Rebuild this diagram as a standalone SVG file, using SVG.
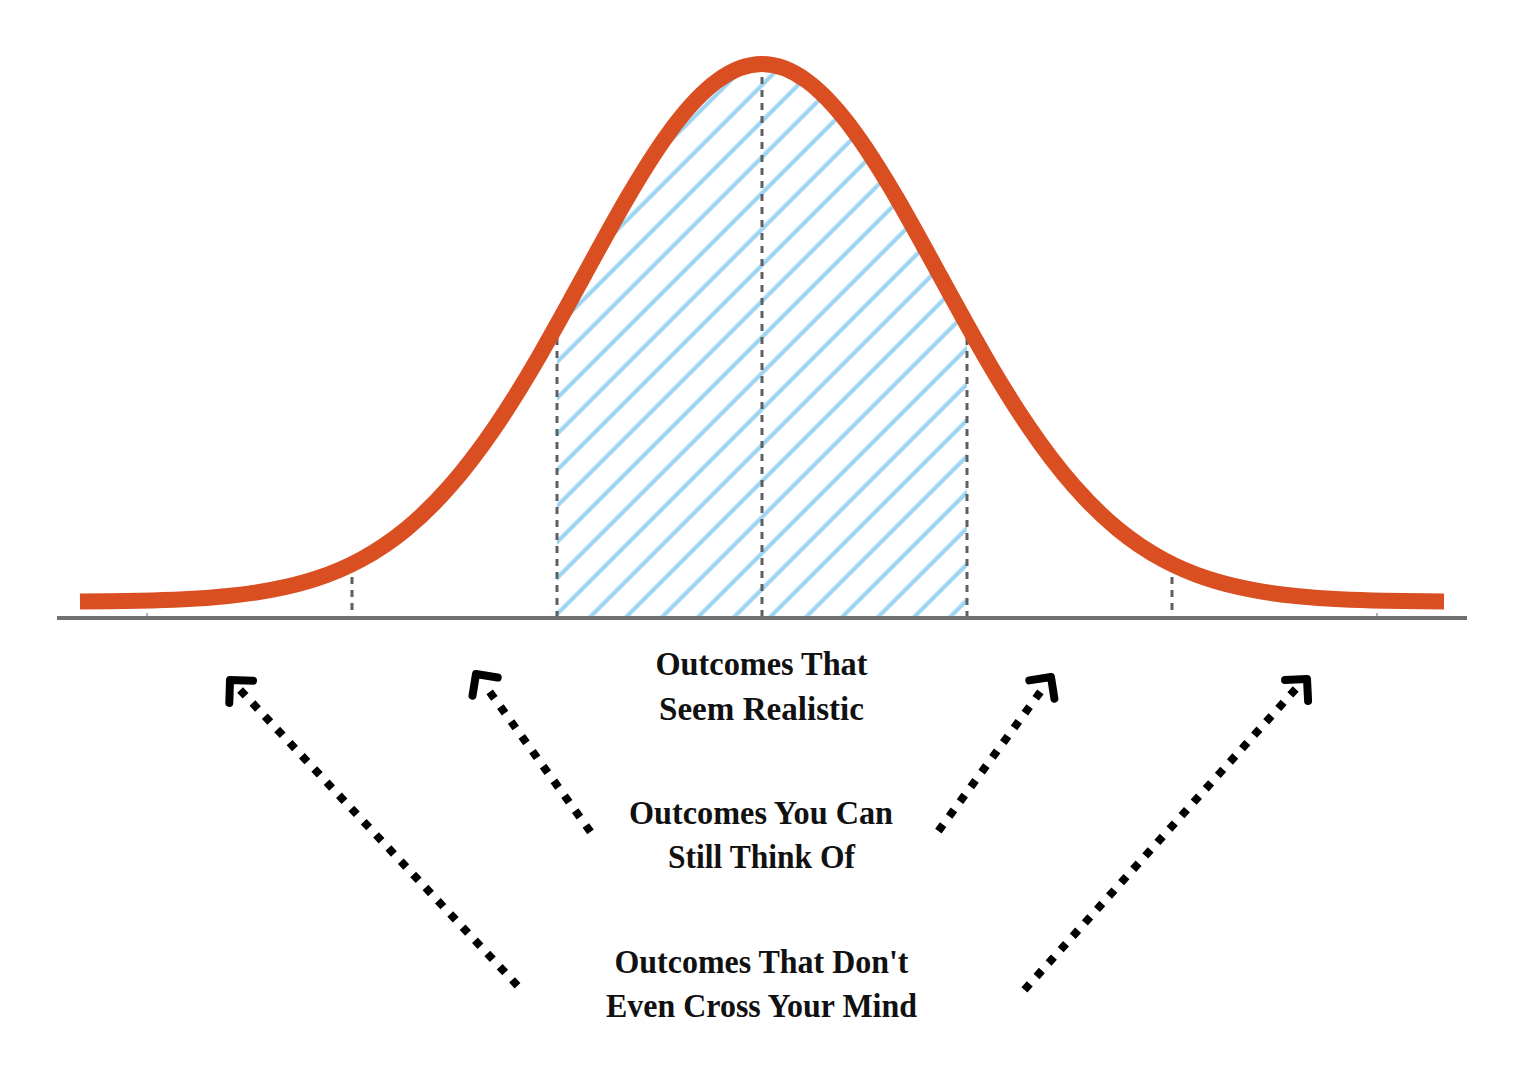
<svg xmlns="http://www.w3.org/2000/svg" width="1521" height="1078" viewBox="0 0 1521 1078">
<style>
.curve{fill:none;stroke:#d94f22;stroke-width:16;stroke-linecap:butt;stroke-linejoin:round}
.axis{fill:none;stroke:#707070;stroke-width:4}
.guide{fill:none;stroke:#5f5f5f;stroke-width:3;stroke-dasharray:7 6}
.tick{fill:none;stroke:#999;stroke-width:1.5}
.dots{fill:none;stroke:#000;stroke-width:8;stroke-linecap:butt}
.head{fill:none;stroke:#000;stroke-width:8;stroke-linecap:round;stroke-linejoin:round}
.lbl{font-family:"Liberation Serif","Times New Roman",serif;font-weight:bold;font-size:34px;fill:#111;text-anchor:middle}
</style>
<defs>
<pattern id="hatch" patternUnits="userSpaceOnUse" width="10" height="25.456" patternTransform="rotate(-45)">
<rect x="0" y="11.4" width="10" height="4.2" fill="#9dd5f3"/>
</pattern>
<clipPath id="under">
<path d="M80,601.6 C100,601.5 119,601.1 139,600.8 C153.83,600.46 168.67,600.04 183.5,599.3 C198.33,598.56 213.17,597.49 228,596.0 C242.83,594.51 257.67,592.51 272.5,589.7 C287.33,586.89 302.17,583.32 317,578.4 C331.83,573.48 346.67,567.23 361.5,559.2 C376.33,551.17 391.17,541.33 406,529.2 C420.83,517.07 435.67,502.57 450.5,485.6 C465.33,468.63 480.17,449.14 495,427.3 C509.83,405.46 524.67,381.36 539.5,355.7 C554.33,330.04 569.17,302.89 584,275.7 C598.83,248.51 613.67,221.28 628.5,195.9 C643.33,170.52 658.17,146.98 673,127.2 C687.83,107.42 702.67,91.46 717.5,80.6 C732.33,69.74 747.17,64 762,64 C776.83,64 791.67,69.74 806.5,80.6 C821.33,91.46 836.17,107.42 851,127.2 C865.83,146.98 880.67,170.52 895.5,195.9 C910.33,221.28 925.17,248.51 940,275.7 C954.83,302.89 969.67,330.04 984.5,355.7 C999.33,381.36 1014.17,405.46 1029,427.3 C1043.83,449.14 1058.67,468.63 1073.5,485.6 C1088.33,502.57 1103.17,517.07 1118,529.2 C1132.83,541.33 1147.67,551.17 1162.5,559.2 C1177.33,567.23 1192.17,573.48 1207,578.4 C1221.83,583.32 1236.67,586.89 1251.5,589.7 C1266.33,592.51 1281.17,594.51 1296,596.0 C1310.83,597.49 1325.67,598.56 1340.5,599.3 C1355.33,600.04 1370.17,600.46 1385,600.8 C1404,601.1 1424,601.5 1444,601.6 L1444,617 L80,617 Z"/>
</clipPath>
</defs>
<rect width="1521" height="1078" fill="#fff"/>

<g id="hatched-area">
<rect x="557" y="40" width="410" height="577" fill="url(#hatch)" clip-path="url(#under)"/>
</g>

<g id="guides">
<line class="guide" x1="352" y1="564" x2="352" y2="616"/>
<line class="guide" x1="557" y1="325" x2="557" y2="616"/>
<line class="guide" x1="762" y1="64" x2="762" y2="616"/>
<line class="guide" x1="967" y1="325" x2="967" y2="616"/>
<line class="guide" x1="1172" y1="564" x2="1172" y2="616"/>
<line class="tick" x1="147" y1="613" x2="147" y2="617"/>
<line class="tick" x1="1377" y1="613" x2="1377" y2="617"/>
</g>

<g id="axis">
<line class="axis" x1="57" y1="618" x2="1467" y2="618"/>
</g>

<g id="bell-curve">
<path class="curve" d="M80,601.6 C100,601.5 119,601.1 139,600.8 C153.83,600.46 168.67,600.04 183.5,599.3 C198.33,598.56 213.17,597.49 228,596.0 C242.83,594.51 257.67,592.51 272.5,589.7 C287.33,586.89 302.17,583.32 317,578.4 C331.83,573.48 346.67,567.23 361.5,559.2 C376.33,551.17 391.17,541.33 406,529.2 C420.83,517.07 435.67,502.57 450.5,485.6 C465.33,468.63 480.17,449.14 495,427.3 C509.83,405.46 524.67,381.36 539.5,355.7 C554.33,330.04 569.17,302.89 584,275.7 C598.83,248.51 613.67,221.28 628.5,195.9 C643.33,170.52 658.17,146.98 673,127.2 C687.83,107.42 702.67,91.46 717.5,80.6 C732.33,69.74 747.17,64 762,64 C776.83,64 791.67,69.74 806.5,80.6 C821.33,91.46 836.17,107.42 851,127.2 C865.83,146.98 880.67,170.52 895.5,195.9 C910.33,221.28 925.17,248.51 940,275.7 C954.83,302.89 969.67,330.04 984.5,355.7 C999.33,381.36 1014.17,405.46 1029,427.3 C1043.83,449.14 1058.67,468.63 1073.5,485.6 C1088.33,502.57 1103.17,517.07 1118,529.2 C1132.83,541.33 1147.67,551.17 1162.5,559.2 C1177.33,567.23 1192.17,573.48 1207,578.4 C1221.83,583.32 1236.67,586.89 1251.5,589.7 C1266.33,592.51 1281.17,594.51 1296,596.0 C1310.83,597.49 1325.67,598.56 1340.5,599.3 C1355.33,600.04 1370.17,600.46 1385,600.8 C1404,601.1 1424,601.5 1444,601.6"/>
</g>

<g id="label-realistic">
<text class="lbl" x="761.5" y="675" textLength="212" lengthAdjust="spacingAndGlyphs">Outcomes That</text>
<text class="lbl" x="761.5" y="720" textLength="205" lengthAdjust="spacingAndGlyphs">Seem Realistic</text>
</g>
<g id="label-think">
<text class="lbl" x="761" y="824" textLength="264" lengthAdjust="spacingAndGlyphs">Outcomes You Can</text>
<text class="lbl" x="761.5" y="868" textLength="187" lengthAdjust="spacingAndGlyphs">Still Think Of</text>
</g>
<g id="label-mind">
<text class="lbl" x="761.5" y="973" textLength="294" lengthAdjust="spacingAndGlyphs">Outcomes That Don't</text>
<text class="lbl" x="761.5" y="1017" textLength="311" lengthAdjust="spacingAndGlyphs">Even Cross Your Mind</text>
</g>

<g id="connectors">
<line class="dots" x1="240.1" y1="689.9" x2="517.9" y2="986.1" stroke-dasharray="8 10.07"/>
<polyline class="head" points="253,680.7 230,680 229.3,703"/>
<line class="dots" x1="489.7" y1="691.8" x2="590.5" y2="831.9" stroke-dasharray="8 10.3"/>
<polyline class="head" points="497.7,677.5 476,674 472.5,695.7"/>
<line class="dots" x1="1040.4" y1="691.8" x2="938.4" y2="831.1" stroke-dasharray="8 10.3"/>
<polyline class="head" points="1029.3,680.4 1051,677 1054.4,698.7"/>
<line class="dots" x1="1295.7" y1="689" x2="1024.3" y2="990" stroke-dasharray="8 10.05"/>
<polyline class="head" points="1285,680 1307,679 1308.1,701"/>
</g>
</svg>
